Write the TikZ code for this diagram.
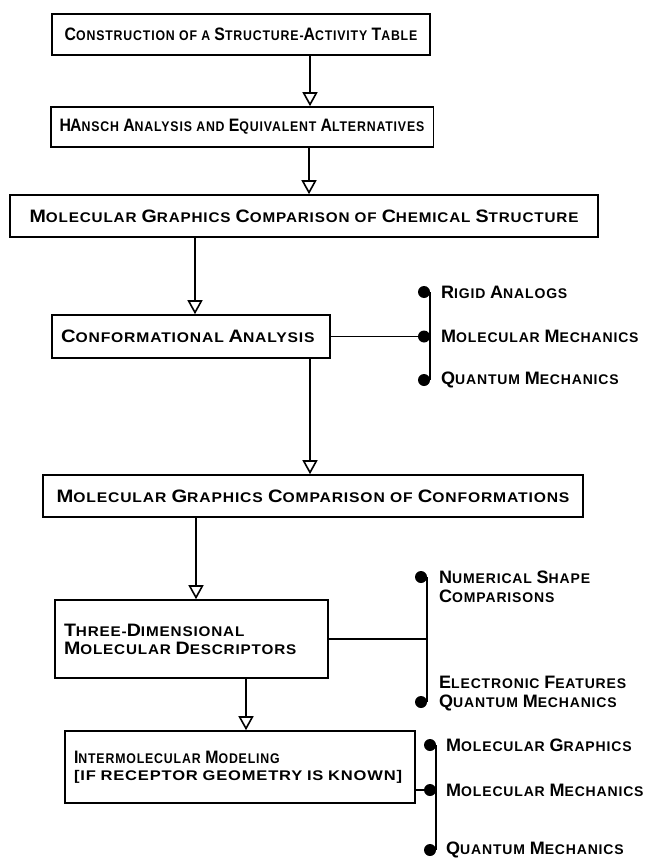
\documentclass[tikz,border=0pt]{standalone}
\usepackage{fontspec}
\setmainfont{Liberation Sans}[FakeStretch=0.88, LetterSpace=6]
\newfontfamily\fa{Liberation Sans}[FakeStretch=0.88, LetterSpace=6]
\newfontfamily\fb{Liberation Sans}[FakeStretch=1.09, LetterSpace=6]
\newfontfamily\fc{Liberation Sans}[FakeStretch=1.12, LetterSpace=6]
\newfontfamily\fd{Liberation Sans}[FakeStretch=1.0, LetterSpace=6]
\newfontfamily\fe{Liberation Sans}[FakeStretch=1.18, LetterSpace=6]
\usetikzlibrary{arrows.meta}
\newcommand\Bg[1]{{\fontsize{18}{18}\selectfont #1}}
\tikzset{
  fA/.style={font=\fa\fontsize{14}{#1}\selectfont\bfseries},
  fB/.style={font=\fb\fontsize{14}{#1}\selectfont\bfseries},
  fC/.style={font=\fc\fontsize{14}{#1}\selectfont\bfseries},
  fD/.style={font=\fd\fontsize{14}{#1}\selectfont\bfseries},
  box/.style={draw, line width=1.6pt, inner xsep=9pt, inner ysep=0pt},
  flow/.style={line width=1.6pt, -{Triangle[open, width=15pt, length=14pt, line width=1.6pt]}},
  link/.style={line width=1.6pt},
  dot/.style={circle, fill, inner sep=0pt, minimum size=12pt},
  lab/.style={anchor=west, inner sep=0pt, align=left, fD=19pt}
}
\begin{document}
\begin{tikzpicture}[x=1pt, y=-1pt]
\useasboundingbox (0,0) rectangle (646,864);
% boxes
\node[box, fA=20pt, minimum width=378pt, minimum height=41pt] (b1) at (241,34.5) {\Bg{C}ONSTRUCTION OF A \Bg{S}TRUCTURE-\Bg{A}CTIVITY \Bg{T}ABLE};
\node[box, fA=20pt, minimum width=380pt, minimum height=40pt] (b2) at (242,127) {\Bg{H}\kern-1pt\Bg{A}NSCH \Bg{A}NALYSIS AND \Bg{E}QUIVALENT \Bg{A}LTERNATIVES};
\node[box, fB=20pt, minimum width=588pt, minimum height=42pt] (b3) at (304,216) {\Bg{M}OLECULAR \Bg{G}RAPHICS \Bg{C}OMPARISON OF \Bg{C}HEMICAL \Bg{S}TRUCTURE};
\node[box, fC=20pt, minimum height=43pt, text width=260pt, align=left] (b4) at (191,336.5) {\Bg{C}ONFORMATIONAL \Bg{A}NALYSIS};
\node[box, fC=20pt, minimum width=540pt, minimum height=42pt] (b5) at (313,496) {\Bg{M}OLECULAR \Bg{G}RAPHICS \Bg{C}OMPARISON OF \Bg{C}ONFORMATIONS};
\node[box, fB=18pt, minimum height=78pt, text width=255pt, align=left] (b6) at (191.5,639) {\Bg{T}HREE-\Bg{D}IMENSIONAL\\\Bg{M}OLECULAR \Bg{D}ESCRIPTORS};
\node[box, fA=17pt, minimum width=350pt, minimum height=72pt, text width=332pt, align=left] (b7) at (240,767) {\Bg{I}NTERMOLECULAR \Bg{M}ODELING\\{\fe\bfseries [IF RECEPTOR GEOMETRY IS KNOWN]}};
% flow arrows
\draw[flow] (310,0 |- b1.south) -- (310,0 |- b2.north);
\draw[flow] (309,0 |- b2.south) -- (309,0 |- b3.north);
\draw[flow] (195,0 |- b3.south) -- (195,0 |- b4.north);
\draw[flow] (310,0 |- b4.south) -- (310,0 |- b5.north);
\draw[flow] (196,0 |- b5.south) -- (196,0 |- b6.north);
\draw[flow] (246,0 |- b6.south) -- (246,0 |- b7.north);
% group 1
\coordinate (s1t) at (430,292);
\coordinate (s1b) at (430,380);
\node[dot] (d11) at (424,292) {};
\node[dot] (d12) at (424,336.5) {};
\node[dot] (d13) at (424,380) {};
\draw[link] (s1t) -- (s1b);
\draw[link] (b4.east) -- (b4.east -| s1t);
\node[lab] (l11) at (441,292) {\Bg{R}IGID \Bg{A}NALOGS};
\node[lab] (l12) at (441,336.5) {\Bg{M}OLECULAR \Bg{M}ECHANICS};
\node[lab] (l13) at (441,380) {\Bg{Q}UANTUM \Bg{M}ECHANICS};
% group 2
\coordinate (s2t) at (427,577);
\coordinate (s2b) at (427,702);
\node[dot] (d21) at (421,577) {};
\node[dot] (d22) at (421,702) {};
\draw[link] (s2t) -- (s2b);
\draw[link] (b6.east) -- (b6.east -| s2t);
\node[lab] (l21) at (439,586.5) {\Bg{N}UMERICAL \Bg{S}HAPE\\\Bg{C}OMPARISONS};
\node[lab] (l22) at (439,693.5) {\Bg{E}LECTRONIC \Bg{F}EATURES\\\Bg{Q}UANTUM \Bg{M}ECHANICS};
% group 3
\coordinate (s3t) at (436,745);
\coordinate (s3m) at (436,790);
\coordinate (s3b) at (436,850);
\node[dot] (d31) at (430,745) {};
\node[dot] (d32) at (430,790) {};
\node[dot] (d33) at (430,850) {};
\draw[link] (s3t) -- (s3b);
\draw[link] (b7.east |- s3m) -- (s3m);
\node[lab] (l31) at (446,745) {\Bg{M}OLECULAR \Bg{G}RAPHICS};
\node[lab] (l32) at (446,790) {\Bg{M}OLECULAR \Bg{M}ECHANICS};
\node[lab] (l33) at (446,850) {\Bg{Q}UANTUM \Bg{M}ECHANICS};
\end{tikzpicture}
\end{document}
